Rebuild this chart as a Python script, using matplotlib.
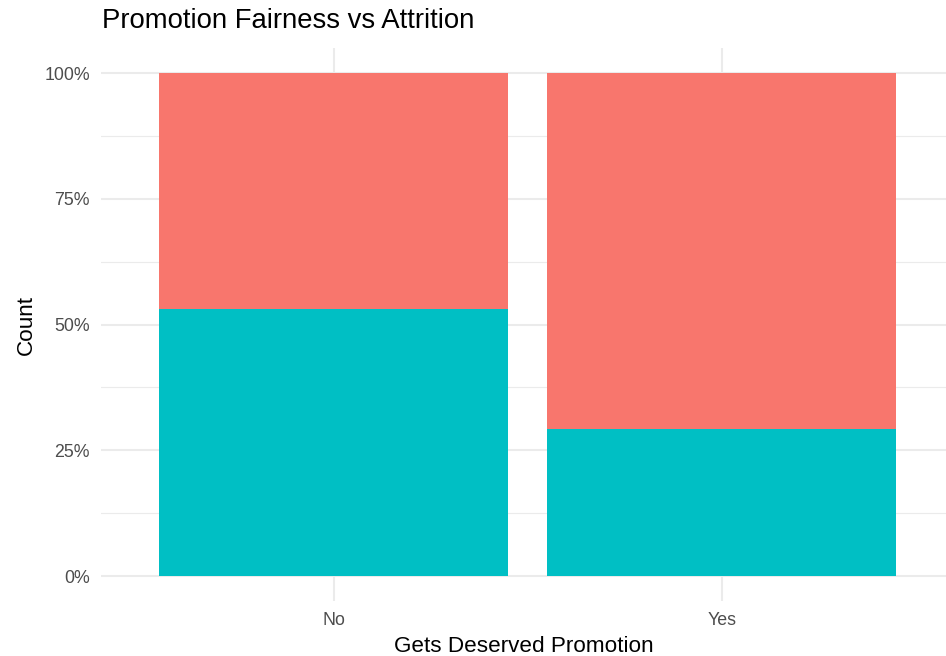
import matplotlib
matplotlib.use("Agg")
import matplotlib.pyplot as plt
import numpy as np

categories = ["No", "Yes"]
stay_share = [0.531, 0.292]      # teal (bottom)
leave_share = [0.469, 0.708]     # salmon (top)
y_ticks = [0.0, 0.25, 0.5, 0.75, 1.0]
y_tick_labels = ["0%", "25%", "50%", "75%", "100%"]

plt.rcParams['font.family'] = ['Liberation Sans', 'DejaVu Sans']

fig = plt.figure(figsize=(9.46, 6.56), dpi=100)
ax = fig.add_axes([101/946, (656-601.2)/656, (946-101)/946, (601.2-47.9)/656])

x = np.arange(1, len(categories) + 1)
ax.bar(x, stay_share, width=0.9, color="#00BFC4", zorder=3)
ax.bar(x, leave_share, width=0.9, bottom=stay_share, color="#F8766D", zorder=3)

ax.set_xlim(0.4, 2.578)
ax.set_ylim(-0.05, 1.05)

# grid
for yv in np.arange(0.125, 1.0, 0.25):
    ax.axhline(yv, color="#EBEBEB", lw=0.8, zorder=1)
for yv in y_ticks:
    ax.axhline(yv, color="#EBEBEB", lw=1.5, zorder=1)
for xv in x:
    ax.axvline(xv, color="#EBEBEB", lw=1.5, zorder=1)

for s in ax.spines.values():
    s.set_visible(False)

ax.set_xticks(x)
ax.set_xticklabels(categories)
ax.set_yticks(y_ticks)
ax.set_yticklabels(y_tick_labels)
ax.tick_params(axis='both', length=0, labelsize=12.8, labelcolor="#4D4D4D")
ax.tick_params(axis='y', pad=8)
ax.tick_params(axis='x', pad=8)

ax.set_xlabel("Gets Deserved Promotion", fontsize=16.2, color="black", labelpad=5)
ax.set_ylabel("Count", fontsize=16.2, color="black", labelpad=5)
fig.text(102/946, 1 - 21/656, "Promotion Fairness vs Attrition", fontsize=19.8,
         ha="left", va="center", color="black")

fig.savefig("out.png", dpi=100)
